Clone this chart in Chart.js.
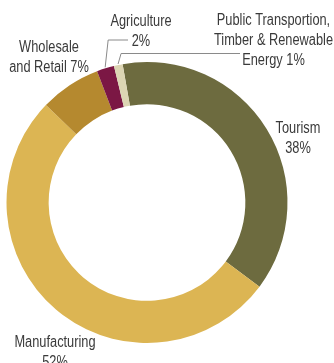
<!DOCTYPE html>
<html>
<head>
<meta charset="utf-8">
<script src="https://cdn.jsdelivr.net/npm/chart.js@4"></script>
<style>
    html, body { margin: 0; padding: 0; background: #fff; }
    #wrap { position: relative; width: 334px; height: 363px; }
</style>
</head>
<body>
<div id="wrap"><canvas id="chart" width="334" height="363"></canvas></div>
<script>
'use strict';

// economy sectors, clockwise from the top
const sectors = ['Tourism', 'Manufacturing', 'Wholesale and Retail', 'Agriculture', 'Public Transportion, Timber & Renewable Energy'];
const shares = [38, 52, 7, 2, 1];
// label lines, {v} is replaced by the share
const labelLines = [
    ['Tourism', '{v}%'],
    ['Manufacturing', '{v}%'],
    ['Wholesale', 'and Retail {v}%'],
    ['Agriculture', '{v}%'],
    ['Public Transportion,', 'Timber & Renewable', 'Energy {v}%']
];

const colors = ['#6d6b3f', '#dcb553', '#b5892f', '#7b1744', '#dcd5b3'];

// where each label block is centred (x, first line y) and its leader line, if any
const labelPos = [
    { x: 298, y: 129, leader: null },
    { x: 55, y: 343, leader: null },
    { x: 49, y: 48, leader: null },
    { x: 141, y: 22, leader: { y: 40, endX: 128 } },
    { x: 273.5, y: 21, leader: { y: 53.5, endX: 240 } }
];

// narrow look: regular sans squeezed horizontally
const FONT = '16px "Liberation Sans", Arimo, Arial, sans-serif';
const SQUEEZE = 0.8;

const labelPlugin = {
    id: 'sectorLabels',
    afterDraw(chart) {
        const ctx = chart.ctx;
        const meta = chart.getDatasetMeta(0);
        ctx.save();
        ctx.font = FONT;
        ctx.fillStyle = '#3a3a3a';
        ctx.textAlign = 'center';
        ctx.textBaseline = 'middle';
        labelLines.forEach((lines, i) => {
            const pos = labelPos[i];
            lines.forEach((line, j) => {
                ctx.save();
                ctx.translate(pos.x, pos.y + j * 20);
                ctx.scale(SQUEEZE, 1);
                ctx.fillText(line.replace('{v}', shares[i]), 0, 0);
                ctx.restore();
            });

            if (pos.leader) {
                const arc = meta.data[i].getProps(['x', 'y', 'startAngle', 'endAngle', 'outerRadius'], true);
                const mid = (arc.startAngle + arc.endAngle) / 2;
                const ax = arc.x + Math.cos(mid) * (arc.outerRadius + 1);
                const ay = arc.y + Math.sin(mid) * (arc.outerRadius + 1);
                ctx.beginPath();
                ctx.strokeStyle = '#8a8a8a';
                ctx.lineWidth = 1;
                ctx.moveTo(ax, ay);
                ctx.lineTo(ax + 3, pos.leader.y);
                ctx.lineTo(pos.leader.endX, pos.leader.y);
                ctx.stroke();
            }
        });
        ctx.restore();
    }
};

new Chart(document.getElementById('chart'), {
    type: 'doughnut',
    data: {
        labels: sectors,
        datasets: [{
            data: shares,
            backgroundColor: colors,
            borderWidth: 0
        }]
    },
    options: {
        responsive: false,
        animation: false,
        rotation: -10,
        cutout: '70%',
        layout: {
            padding: { left: 6.5, top: 62, right: 46.5, bottom: 20 }
        },
        plugins: {
            legend: { display: false },
            tooltip: { enabled: false }
        }
    },
    plugins: [labelPlugin]
});
</script>
</body>
</html>
